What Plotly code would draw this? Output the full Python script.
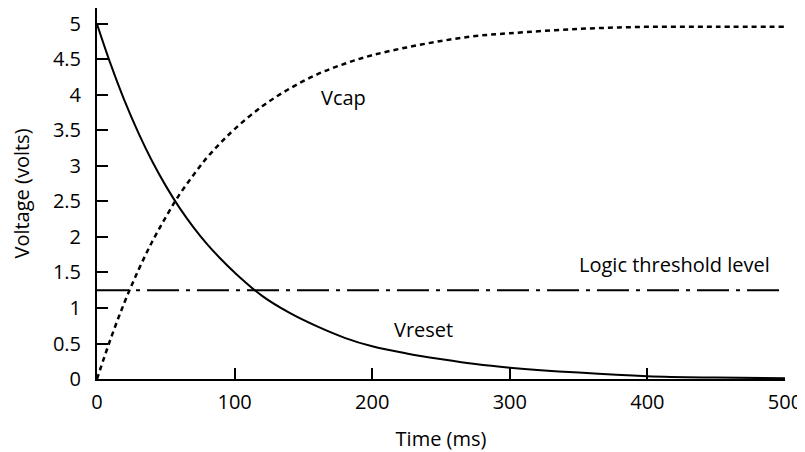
import plotly.graph_objects as go

# Time axis (ms)
time_ms = [0, 10, 20, 30, 40, 50, 60, 70, 80, 90, 100, 120, 140, 160, 180, 200,
           225, 250, 275, 300, 350, 400, 450, 500]
# Capacitor voltage (rising)
vcap = [0.00, 0.57, 1.08, 1.53, 1.93, 2.28, 2.60, 2.87, 3.12, 3.33, 3.52, 3.84,
        4.09, 4.29, 4.44, 4.56, 4.67, 4.76, 4.83, 4.87, 4.93, 4.96, 4.96, 4.96]
# Reset voltage (falling)
vreset = [5.00, 4.43, 3.92, 3.47, 3.07, 2.72, 2.41, 2.14, 1.90, 1.69, 1.50, 1.17,
          0.93, 0.74, 0.58, 0.46, 0.36, 0.28, 0.21, 0.16, 0.09, 0.04, 0.02, 0.01]
# Logic threshold level
threshold_x = [0, 500]
threshold_y = [1.25, 1.25]

x_ticks = [0, 100, 200, 300, 400, 500]
y_ticks = [0, 0.5, 1, 1.5, 2, 2.5, 3, 3.5, 4, 4.5, 5]
y_ticklabels = ["0", "0.5", "1", "1.5", "2", "2.5", "3", "3.5", "4", "4.5", "5"]

FONT = "Open Sans"
FS = 20

fig = go.Figure()
fig.add_trace(go.Scatter(x=threshold_x, y=threshold_y, mode="lines",
                         line=dict(color="black", width=2, dash="32px,7px,4px,7px"),
                         showlegend=False, hoverinfo="skip"))
fig.add_trace(go.Scatter(x=time_ms, y=vcap, mode="lines", line_shape="spline",
                         line=dict(color="black", width=2.5, dash="5px,4px"),
                         showlegend=False))
fig.add_trace(go.Scatter(x=time_ms, y=vreset, mode="lines", line_shape="spline",
                         line=dict(color="black", width=2), showlegend=False))

fig.add_annotation(x=179, y=3.96, text="Vcap", showarrow=False,
                   font=dict(family=FONT, size=FS, color="black"))
fig.add_annotation(x=237, y=0.70, text="Vreset", showarrow=False,
                   font=dict(family=FONT, size=FS, color="black"))
fig.add_annotation(x=420, y=1.61, text="Logic threshold level", showarrow=False,
                   font=dict(family=FONT, size=FS, color="black"))

# The page body adds an 8px offset, so the figure is sized to fit the window.
fig.update_layout(
    width=797, height=444,
    margin=dict(l=89, r=20, t=0, b=73),
    paper_bgcolor="white", plot_bgcolor="white",
    font=dict(family=FONT, size=FS, color="black"),
)
fig.update_xaxes(range=[0, 500], tickvals=x_ticks, ticks="inside", ticklen=11,
                 tickcolor="black", tickwidth=1.5, showline=True, linecolor="black",
                 linewidth=2, showgrid=False, zeroline=False, automargin=False,
                 title=dict(text="Time (ms)", standoff=20,
                            font=dict(family=FONT, size=FS)),
                 ticklabelstandoff=4)
fig.update_yaxes(range=[0, 5.225], tickvals=y_ticks, ticktext=y_ticklabels,
                 ticks="inside", ticklen=11, tickcolor="black", tickwidth=1.5,
                 showline=True, linecolor="black", linewidth=2, showgrid=False,
                 zeroline=False, automargin=False,
                 title=dict(text="Voltage (volts)", standoff=20,
                            font=dict(family=FONT, size=FS)),
                 ticklabelstandoff=10)

fig.write_html("out.html")
